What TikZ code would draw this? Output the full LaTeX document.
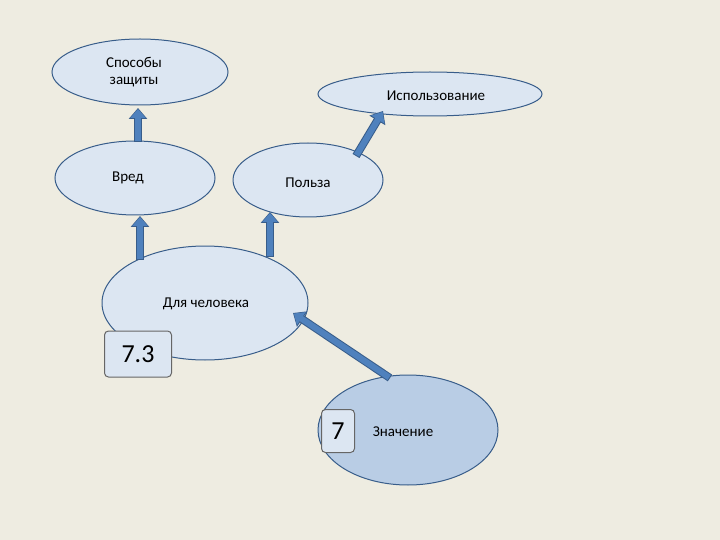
\documentclass[tikz,border=0pt]{standalone}
\usepackage{fontspec}
\setmainfont{Carlito}
\usetikzlibrary{shapes.geometric,arrows.meta}
\definecolor{bg}{HTML}{EEECE1}
\definecolor{ef}{HTML}{DCE6F2}
\definecolor{ed}{HTML}{B9CDE5}
\definecolor{eb}{HTML}{385D8A}
\definecolor{ab}{HTML}{4F81BD}
\tikzset{
 ell/.style={ellipse,draw=eb,line width=1pt,fill=ef,inner sep=0pt},
 lbl/.style={font=\fontsize{15}{17}\selectfont,align=center},
 numbox/.style={draw=gray!80!black,line width=1pt,fill=ef,rounded corners=4pt,inner sep=0pt,font=\fontsize{26}{28}\selectfont},
 barrow/.style={-{Triangle[length=11pt,width=18pt]},line width=8pt,draw=eb},
 barrowin/.style={-{Triangle[length=9pt,width=15pt]},line width=6pt,draw=ab,shorten <=1pt,shorten >=1pt}
}
\begin{document}
\begin{tikzpicture}[x=1pt,y=-1pt]
\fill[bg] (0,0) rectangle (720,540);
\useasboundingbox (0,0) rectangle (720,540);
\node[ell,minimum width=176,minimum height=66] (sz) at (140,72) {};
\node[lbl] (szt) at (134,72) {Способы\\защиты};
\node[ell,minimum width=224,minimum height=44] (isp) at (430,94) {};
\node[lbl] (ispt) at (436,96) {Использование};
\node[ell,minimum width=160,minimum height=74] (vr) at (135,178) {};
\node[lbl] (vrt) at (128,178) {Вред};
\node[ell,minimum width=150,minimum height=74] (pz) at (308,180) {};
\node[lbl] (pzt) at (308,183) {Польза};
\node[ell,minimum width=206,minimum height=114] (dc) at (205,303) {};
\node[lbl] (dct) at (206,304) {Для человека};
\node[ell,fill=ed,minimum width=180,minimum height=110] (zn) at (408,430) {};
\node[lbl] (znt) at (403,432) {Значение};
\node[numbox,minimum width=67,minimum height=46] (b73) at (138,354) {7.3};
\node[numbox,minimum width=33,minimum height=43] (b7) at (338,431) {7};
\coordinate (a1s) at (138,142); \coordinate (a1e) at (138,108);
\coordinate (a2s) at (140,260); \coordinate (a2e) at (140,216);
\coordinate (a3s) at (270,257); \coordinate (a3e) at (270,212);
\coordinate (a4s) at (356,156); \coordinate (a4e) at (383,111);
\coordinate (a5s) at (390,378); \coordinate (a5e) at (293,313);
\foreach \s/\e in {a1s/a1e,a2s/a2e,a3s/a3e,a4s/a4e,a5s/a5e}{
 \draw[barrow] (\s) -- (\e);
 \draw[barrowin] (\s) -- (\e);
}
\end{tikzpicture}
\end{document}
